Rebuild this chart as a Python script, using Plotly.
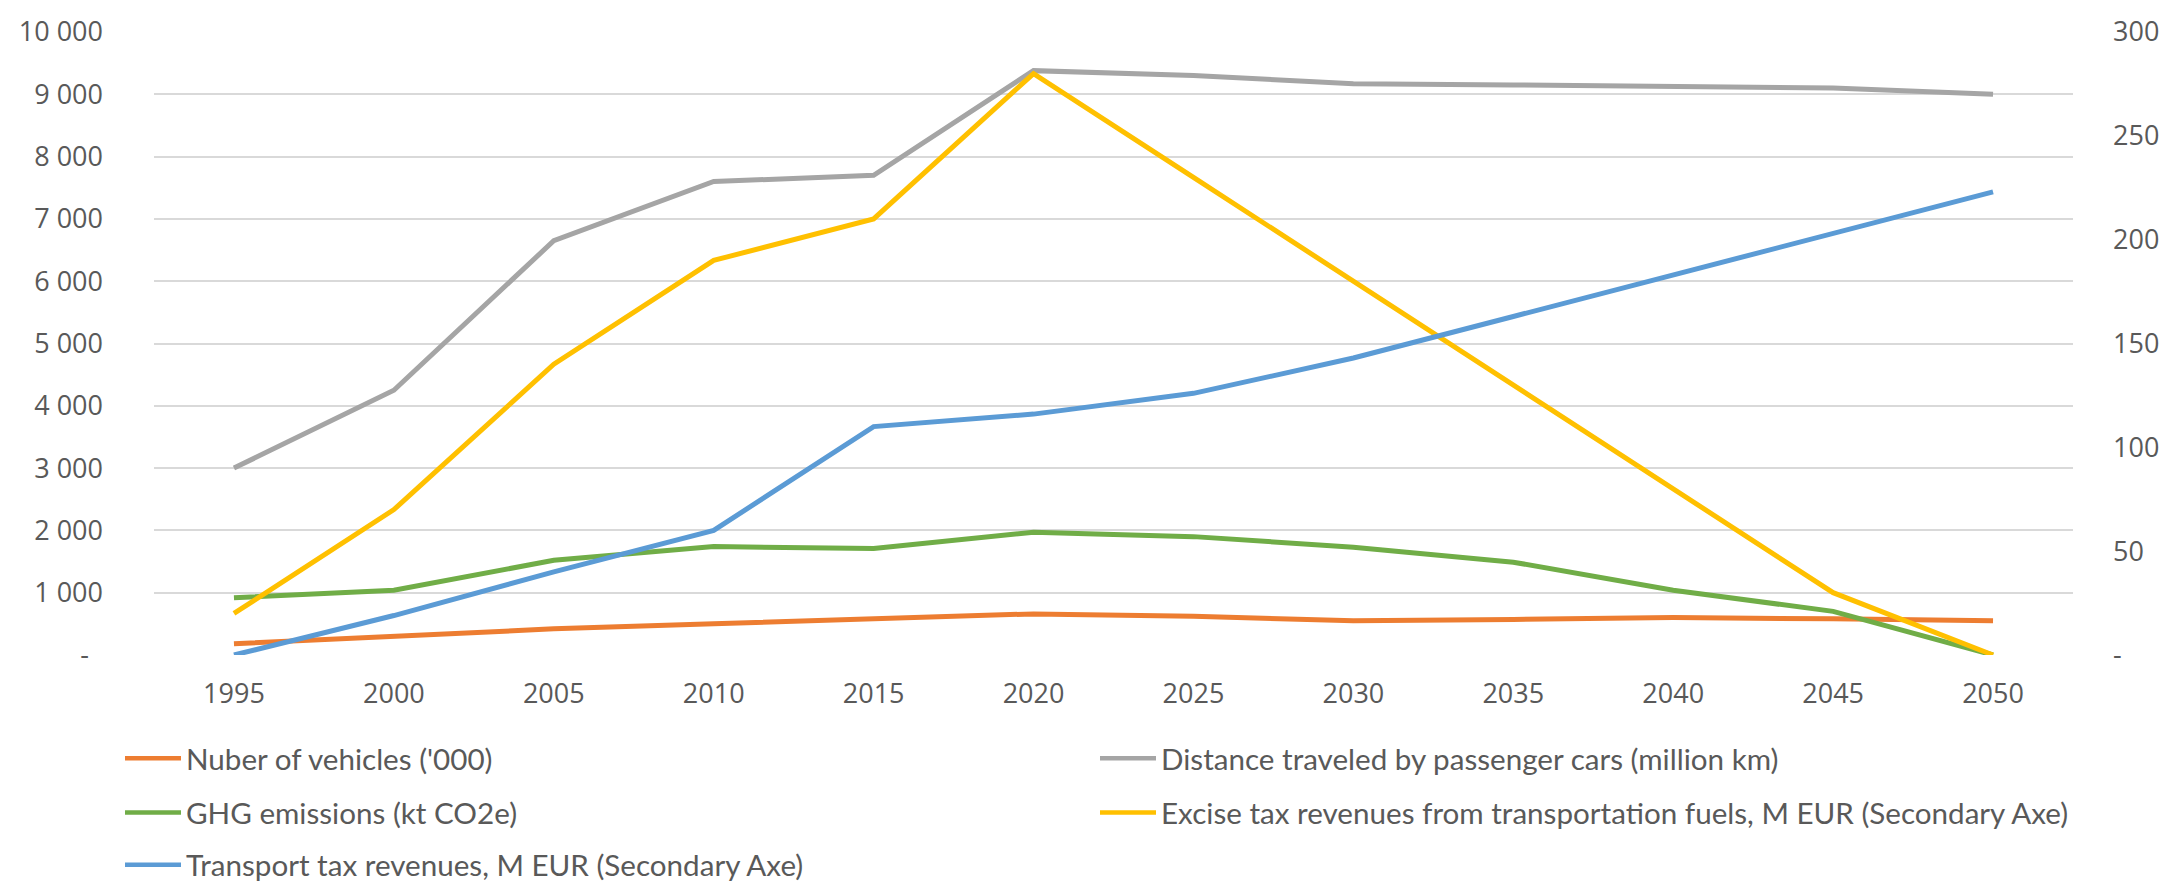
import plotly.graph_objects as go

# Years on the category axis
years = [1995, 2000, 2005, 2010, 2015, 2020, 2025, 2030, 2035, 2040, 2045, 2050]

# Primary axis series
vehicles = [180, 300, 420, 500, 580, 660, 620, 550, 570, 600, 580, 550]
distance = [3000, 4250, 6650, 7600, 7700, 9380, 9300, 9170, 9150, 9120, 9100, 9000]
ghg = [920, 1040, 1520, 1740, 1710, 1970, 1900, 1730, 1490, 1040, 700, 0]

# Secondary axis series (M EUR)
excise = [20, 70, 140, 190, 210, 280, 230, 180, 130, 80, 30, 0]
transport_tax = [0, 19, 40, 60, 110, 116, 126, 143, 163, 183, 203, 223]

names = [
    "Nuber of vehicles ('000)",
    "Distance traveled by passenger cars (million km)",
    "GHG emissions (kt CO2e)",
    "Excise tax revenues from transportation fuels, M EUR (Secondary Axe)",
    "Transport tax revenues, M EUR (Secondary Axe)",
]
colors = ["#ED7D31", "#A5A5A5", "#70AD47", "#FFC000", "#5B9BD5"]

left_ticks = list(range(0, 10001, 1000))
left_text = ["-\u00a0\u00a0"] + [f"{v:,}".replace(",", " ") for v in left_ticks[1:]]
right_ticks = list(range(0, 301, 50))
right_text = ["-"] + [str(v) for v in right_ticks[1:]]

W, H = 2182, 885
ML, MR, MT, MB = 154, 109, 22, 230
PW, PH = W - ML - MR, H - MT - MB

TEXT = "#595959"
TICK_FONT = dict(family="Open Sans", size=27, color=TEXT)
LEG_FONT = dict(family="Lato", size=29.6, color=TEXT)

fig = go.Figure()
series = [
    (vehicles, "y"), (distance, "y"), (ghg, "y"),
    (excise, "y2"), (transport_tax, "y2"),
]
for (vals, ax), name, col in zip(series, names, colors):
    fig.add_trace(go.Scatter(
        x=years, y=vals, name=name, yaxis=ax, mode="lines",
        line=dict(color=col, width=5), showlegend=False,
    ))


def px_x(px):
    return (px - ML) / PW


def px_y(py):
    return (H - MB - py) / PH


# Two-column legend below the plot
legend_cols = [125, 1100]
legend_rows = [760, 815, 868]
shapes = []
annotations = []
for i, (name, col) in enumerate(zip(names, colors)):
    cx = legend_cols[i % 2]
    cy = legend_rows[i // 2]
    shapes.append(dict(
        type="line", xref="paper", yref="paper",
        x0=px_x(cx), x1=px_x(cx + 56), y0=px_y(cy), y1=px_y(cy),
        line=dict(color=col, width=4.5),
    ))
    annotations.append(dict(
        text=name, xref="paper", yref="paper",
        x=px_x(cx + 59), y=px_y(cy), xanchor="left", yanchor="middle",
        showarrow=False, font=LEG_FONT,
    ))

fig.update_layout(
    width=W, height=H,
    margin=dict(l=ML, r=MR, t=MT, b=MB, pad=0),
    paper_bgcolor="white", plot_bgcolor="white",
    showlegend=False,
    xaxis=dict(
        range=[1992.5, 2052.5], tickvals=years, ticktext=[str(y) for y in years],
        showgrid=False, zeroline=False, showline=False, ticks="",
        tickfont=TICK_FONT, ticklabelstandoff=20, fixedrange=True,
    ),
    yaxis=dict(
        range=[0, 10000], tickvals=left_ticks, ticktext=left_text,
        showgrid=True, gridcolor="#D9D9D9", gridwidth=2,
        zeroline=False, showline=False, ticks="",
        tickfont=TICK_FONT, ticklabelstandoff=50,
    ),
    yaxis2=dict(
        range=[0, 300], tickvals=right_ticks, ticktext=right_text,
        overlaying="y", side="right", showgrid=False,
        zeroline=False, showline=False, ticks="",
        tickfont=TICK_FONT, ticklabelstandoff=39,
    ),
    shapes=shapes,
    annotations=annotations,
)

fig.write_html("out.html")
